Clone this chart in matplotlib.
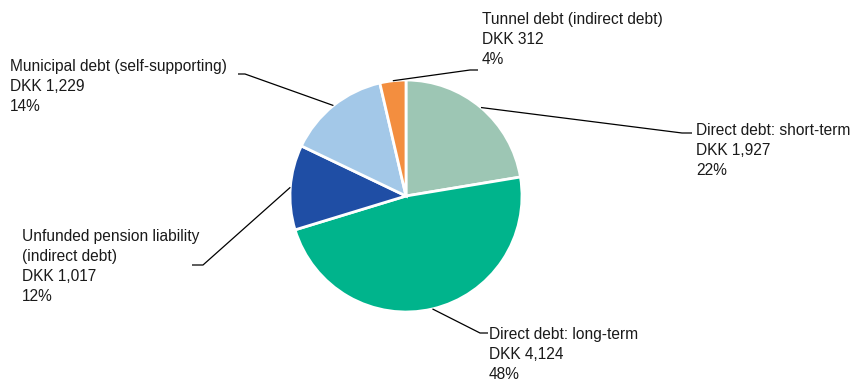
import numpy as np
import matplotlib
matplotlib.use("Agg")
import matplotlib.pyplot as plt

labels = ["Direct debt: short-term", "Direct debt: long-term",
          "Unfunded pension liability\n(indirect debt)",
          "Municipal debt (self-supporting)", "Tunnel debt (indirect debt)"]
values = [1927, 4124, 1017, 1229, 312]
value_text = ["DKK 1,927", "DKK 4,124", "DKK 1,017", "DKK 1,229", "DKK 312"]
pct_text = ["22%", "48%", "12%", "14%", "4%"]
colors = ["#9DC6B4", "#00B48C", "#1F4EA5", "#A3C8E8", "#F38E3F"]

W, H = 859, 383
fig = plt.figure(figsize=(W / 100, H / 100), dpi=100)
ax = fig.add_axes([0, 0, 1, 1])

cx, cy, r = 406, H - 196, 116
wedges, _ = ax.pie(values, colors=colors, startangle=90, counterclock=False,
                   center=(cx, cy), radius=r, frame=True,
                   wedgeprops=dict(edgecolor="white", linewidth=2))
ax.set_xlim(0, W)
ax.set_ylim(0, H)
ax.set_aspect("equal")
ax.axis("off")

# label layout: (elbow_x, elbow_y, text_x, text_y_top) in pixel coords (y down)
layout = [
    (682, 133, 696, 123),
    (480, 333, 489, 327),
    (203, 265, 22, 229),
    (245, 74, 10, 59),
    (470, 70, 482, 12),
]
tail = [10, 8, -11, -7, 8]

font = dict(family="Liberation Sans", size=11.2, color="#1a1a1a")
for w, lab, vt, pt, (ex, ey, tx, ty), tl in zip(wedges, labels, value_text, pct_text, layout, tail):
    ang = np.deg2rad((w.theta1 + w.theta2) / 2)
    sx = cx + r * np.cos(ang)
    sy = cy + r * np.sin(ang)
    exd, eyd = ex, H - ey
    ax.plot([sx, exd, exd + tl], [sy, eyd, eyd], color="black", lw=0.9,
            solid_capstyle="butt")
    ax.text(tx, H - ty, f"{lab}\n{vt}\n{pt}", ha="left", va="top",
            linespacing=1.42, **font)

fig.savefig("out.png", dpi=100)
